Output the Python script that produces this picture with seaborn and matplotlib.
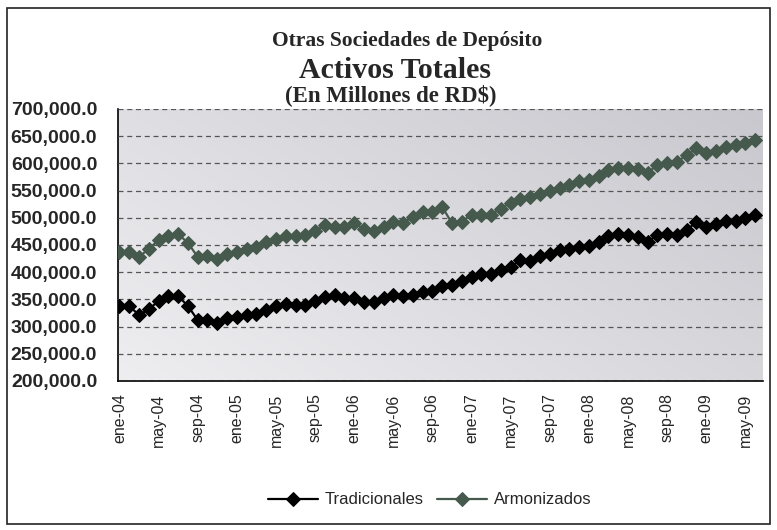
import numpy as np
import pandas as pd
import matplotlib
matplotlib.use("Agg")
import matplotlib.pyplot as plt
import seaborn as sns
from matplotlib.colors import LinearSegmentedColormap
from matplotlib.patches import Rectangle
from matplotlib.ticker import FuncFormatter

# monthly data, ene-04 .. jun-09 (millones de RD$)
meses = ["ene", "feb", "mar", "abr", "may", "jun", "jul", "ago", "sep", "oct", "nov", "dic"]
periodos = [f"{meses[i % 12]}-{4 + i // 12:02d}" for i in range(66)]

tradicionales = [
    338, 338, 321, 332, 347, 356, 356, 338, 312, 313, 307, 316, 317,
    321, 324, 331, 337, 342, 340, 340, 347, 355, 358, 353, 353, 346,
    346, 352, 358, 356, 359, 363, 365, 374, 377, 383, 392, 397, 397, 404,
    410, 422, 420, 430, 434, 440, 443, 446, 449, 456, 466, 471, 468,
    464, 456, 468, 471, 469, 477, 493, 484, 488, 495, 494, 500, 505,
]
armonizados = [
    438, 438, 428, 443, 459, 466, 470, 454, 428, 430, 424, 433, 438,
    443, 447, 456, 461, 467, 466, 468, 476, 486, 484, 484, 490, 480,
    476, 484, 493, 491, 502, 510, 510, 520, 490, 493, 506, 506, 506, 517,
    528, 535, 538, 543, 550, 554, 560, 567, 570, 577, 587, 591, 592,
    590, 583, 597, 600, 603, 615, 628, 619, 622, 631, 634, 638, 643,
]

df = pd.DataFrame({
    "idx": np.arange(len(periodos)),
    "periodo": periodos,
    "Tradicionales": np.array(tradicionales) * 1000.0,
    "Armonizados": np.array(armonizados) * 1000.0,
})

sns.set_style("white")
plt.rcParams["font.family"] = ["Liberation Sans", "DejaVu Sans"]

fig = plt.figure(figsize=(7.77, 5.30), dpi=100)
ax = fig.add_axes([118 / 777, 1 - 381 / 530, (763 - 118) / 777, (381 - 109) / 530])

# gradient plot area
cmap = LinearSegmentedColormap.from_list("fondo", ["#eeedf0", "#c9c8ce"])
gx, gy = np.meshgrid(np.linspace(0, 1, 200), np.linspace(0, 1, 200))
ax.imshow(0.6 * gx + 0.4 * gy, extent=[0, 1, 0, 1], transform=ax.transAxes,
          cmap=cmap, aspect="auto", origin="lower", zorder=0)

for col, color in [("Tradicionales", "#000000"), ("Armonizados", "#45594d")]:
    sns.lineplot(data=df, x="idx", y=col, ax=ax, color=color, marker="D",
                 markersize=7, markeredgecolor=color, linewidth=1.6,
                 label=col, zorder=3)

ax.set_xlim(-0.15, 65.8)
ax.set_ylim(200000, 700000)
ax.set_yticks(np.arange(200000, 700001, 50000))
ax.yaxis.set_major_formatter(FuncFormatter(lambda v, p: f"{v:,.1f}"))
ax.set_xticks(df["idx"][::4])
ax.set_xticklabels(df["periodo"][::4], rotation=90, fontsize=11.5)
for lab in ax.get_yticklabels():
    lab.set_fontsize(14)
    lab.set_fontweight("bold")
ax.tick_params(axis="y", direction="inout", length=6, width=1, pad=12)
ax.tick_params(axis="x", direction="out", length=5, width=1, pad=4)
ax.yaxis.grid(True, linestyle=(0, (4, 3)), color="#555555", linewidth=0.9)
ax.set_axisbelow(False)
ax.set_xlabel("")
ax.set_ylabel("")
for s in ["top", "right"]:
    ax.spines[s].set_visible(False)
for s in ["left", "bottom"]:
    ax.spines[s].set_color("black")
    ax.spines[s].set_linewidth(1.2)

ax.get_legend().remove()
handles, labels = ax.get_legend_handles_labels()
fig.legend(handles, labels, loc="center", bbox_to_anchor=(430 / 777, 1 - 500 / 530),
           ncol=2, frameon=False, fontsize=12, handlelength=3, columnspacing=0.8,
           handletextpad=0.4)

serif = ["Liberation Serif", "DejaVu Serif"]
fig.text(407 / 777, 1 - 41 / 530, "Otras Sociedades de Depósito", ha="center", va="center",
         fontsize=15.5, fontweight="bold", family=serif)
fig.text(395 / 777, 1 - 71 / 530, "Activos Totales", ha="center", va="center",
         fontsize=21.5, fontweight="bold", family=serif)
fig.text(391 / 777, 1 - 95 / 530, "(En Millones de RD$)", ha="center", va="center",
         fontsize=16.5, fontweight="bold", family=serif)

fig.patches.append(Rectangle((7 / 777, 6 / 530), 763 / 777, 516 / 530,
                             transform=fig.transFigure, fill=False,
                             edgecolor="#222222", linewidth=1.2))

fig.savefig("out.png", dpi=100)
